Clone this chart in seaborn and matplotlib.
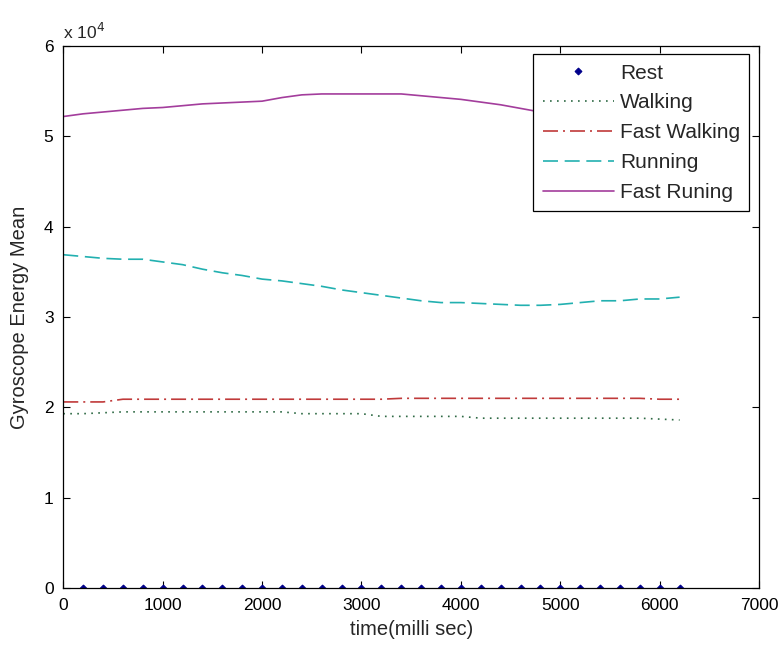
import numpy as np
import pandas as pd
import seaborn as sns
import matplotlib
matplotlib.use("Agg")
import matplotlib.pyplot as plt
from matplotlib.ticker import FuncFormatter, MultipleLocator

# ---- data (y in raw units) ----
time_ms = [0, 200, 400, 600, 800, 1000, 1200, 1400, 1600, 1800, 2000, 2200,
           2400, 2600, 2800, 3000, 3200, 3400, 3600, 3800, 4000, 4200, 4400,
           4600, 4800, 5000, 5200, 5400, 5600, 5800, 6000, 6200]
rest_time = [200, 400, 600, 800, 1000, 1200, 1400, 1600, 1800, 2000, 2200,
             2400, 2600, 2800, 3000, 3200, 3400, 3600, 3800, 4000, 4200, 4400,
             4600, 4800, 5000, 5200, 5400, 5600, 5800, 6000, 6200]
rest = [0, 0, 0, 0, 0, 0, 0, 0, 0, 0, 0, 0, 0, 0, 0, 0,
        0, 0, 0, 0, 0, 0, 0, 0, 0, 0, 0, 0, 0, 0, 0]
walking = [19300, 19300, 19400, 19500, 19500, 19500, 19500, 19500, 19500,
           19500, 19500, 19500, 19300, 19300, 19300, 19300, 19000, 19000,
           19000, 19000, 19000, 18800, 18800, 18800, 18800, 18800, 18800,
           18800, 18800, 18800, 18700, 18600]
fast_walking = [20600, 20600, 20600, 20900, 20900, 20900, 20900, 20900,
                20900, 20900, 20900, 20900, 20900, 20900, 20900, 20900,
                20900, 21000, 21000, 21000, 21000, 21000, 21000, 21000,
                21000, 21000, 21000, 21000, 21000, 21000, 20900, 20900]
running = [36900, 36700, 36500, 36400, 36400, 36100, 35800, 35300, 34900,
           34600, 34200, 34000, 33700, 33400, 33000, 32700, 32400, 32100,
           31800, 31600, 31600, 31500, 31400, 31300, 31300, 31400, 31600,
           31800, 31800, 32000, 32000, 32200]
fast_running = [52200, 52500, 52700, 52900, 53100, 53200, 53400, 53600,
                53700, 53800, 53900, 54300, 54600, 54700, 54700, 54700,
                54700, 54700, 54500, 54300, 54100, 53800, 53500, 53100,
                52700, 52400, 52100, 51900, 51700, 51500, 51400, 51300]
labels = ["Rest", "Walking", "Fast Walking", "Running", "Fast Runing"]

sns.set_style("ticks")
plt.rcParams["font.family"] = ["Liberation Sans", "DejaVu Sans"]

fig = plt.figure(figsize=(7.81, 6.49), dpi=100)
ax = fig.add_axes([0.081, 0.094, 0.891, 0.835])

df_rest = pd.DataFrame({"t": rest_time, "v": rest})
df = pd.DataFrame({"t": time_ms, "walking": walking, "fast_walking": fast_walking,
                   "running": running, "fast_running": fast_running})

sns.lineplot(data=df_rest, x="t", y="v", ax=ax, linestyle="", marker="D",
             markersize=3.5, color="#00008B", markeredgecolor="#00008B",
             label=labels[0])
sns.lineplot(data=df, x="t", y="walking", ax=ax, color="#2f6a45",
             linewidth=1.2, label=labels[1]).lines[-1].set_dashes([1, 3.2])
l3 = sns.lineplot(data=df, x="t", y="fast_walking", ax=ax, color="#c03a3a",
                  linewidth=1.2, label=labels[2]).lines[-1]
l3.set_dashes([9, 3, 1.2, 3])
l4 = sns.lineplot(data=df, x="t", y="running", ax=ax, color="#22b0b0",
                  linewidth=1.2, label=labels[3]).lines[-1]
l4.set_dashes([9, 4])
sns.lineplot(data=df, x="t", y="fast_running", ax=ax, color="#a33d9c",
             linewidth=1.2, label=labels[4])

ax.set_xlim(0, 7000)
ax.set_ylim(0, 60000)
ax.xaxis.set_major_locator(MultipleLocator(1000))
ax.yaxis.set_major_locator(MultipleLocator(10000))
ax.yaxis.set_major_formatter(FuncFormatter(lambda v, p: f"{v/1e4:g}"))
ax.tick_params(direction="in", length=5, width=0.8, top=True, right=True,
               labelsize=12.5, colors="black", pad=7)
for s in ax.spines.values():
    s.set_color("black")
    s.set_linewidth(0.9)
ax.set_xlabel("time(milli sec)", fontsize=14.5, labelpad=5)
ax.set_ylabel("Gyroscope Energy Mean", fontsize=14.5, labelpad=11)
ax.text(0.0, 1.008, r"x 10$^{4}$", transform=ax.transAxes, fontsize=12.5,
        ha="left", va="bottom")

leg = ax.legend(loc="upper right", bbox_to_anchor=(0.986, 0.985), fontsize=15,
                frameon=True, fancybox=False, framealpha=1, edgecolor="black",
                handlelength=3.4, handletextpad=0.3, labelspacing=0.52,
                borderpad=0.45, borderaxespad=0.0)
leg.get_frame().set_linewidth(0.9)

fig.savefig("out.png", dpi=100)
